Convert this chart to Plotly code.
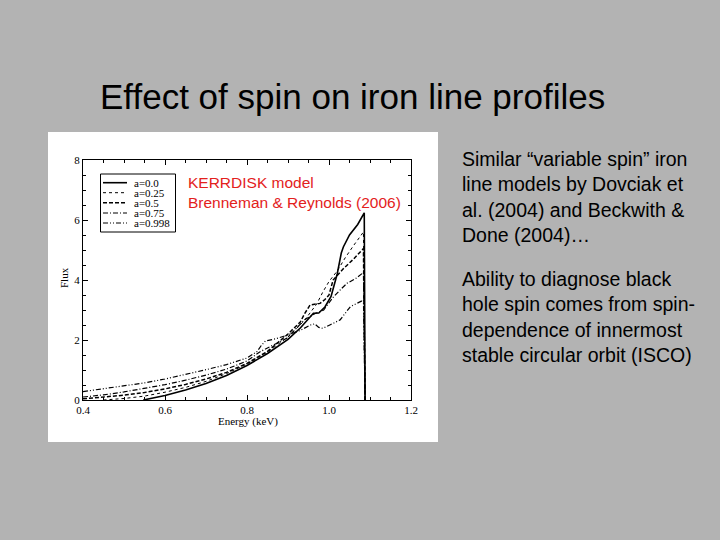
import plotly.graph_objects as go

# spin values and line profiles
spins = ['a=0.0', 'a=0.25', 'a=0.5', 'a=0.75', 'a=0.998']

e_a0 = [0.547, 0.60, 0.65, 0.70, 0.75, 0.80, 0.85, 0.90, 0.93, 0.962, 0.975, 0.99, 1.005, 1.02, 1.03, 1.035, 1.05, 1.07, 1.086, 1.088]
f_a0 = [0.0, 0.15, 0.33, 0.55, 0.82, 1.15, 1.55, 2.02, 2.4, 2.89, 2.9, 3.1, 3.45, 4.2, 4.9, 5.1, 5.5, 5.85, 6.24, 0.0]

e_a025 = [0.45, 0.50, 0.55, 0.60, 0.65, 0.70, 0.75, 0.80, 0.85, 0.90, 0.94, 0.97, 0.985, 1.0, 1.02, 1.04, 1.06, 1.084, 1.088]
f_a025 = [0.0, 0.05, 0.13, 0.26, 0.42, 0.62, 0.88, 1.2, 1.6, 2.1, 2.65, 3.2, 3.6, 3.95, 4.3, 4.75, 5.15, 5.6, 0.0]

e_a05 = [0.40, 0.45, 0.50, 0.55, 0.60, 0.65, 0.70, 0.75, 0.80, 0.85, 0.90, 0.93, 0.941, 0.954, 0.978, 0.99, 1.0, 1.01, 1.036, 1.06, 1.084, 1.088]
f_a05 = [0.04, 0.09, 0.16, 0.25, 0.37, 0.52, 0.70, 0.92, 1.22, 1.62, 2.2, 2.6, 2.89, 3.17, 3.22, 3.35, 3.5, 4.0, 4.39, 4.7, 5.05, 0.0]

e_a075 = [0.40, 0.45, 0.50, 0.55, 0.60, 0.65, 0.70, 0.75, 0.80, 0.832, 0.86, 0.897, 0.94, 0.967, 0.987, 1.011, 1.031, 1.044, 1.065, 1.084, 1.088]
f_a075 = [0.10, 0.17, 0.27, 0.38, 0.51, 0.66, 0.83, 1.03, 1.30, 1.61, 1.80, 2.06, 2.67, 2.89, 3.0, 3.44, 3.72, 3.89, 4.05, 4.25, 0.0]

e_a0998 = [0.40, 0.45, 0.50, 0.55, 0.60, 0.65, 0.70, 0.75, 0.80, 0.825, 0.835, 0.845, 0.87, 0.90, 0.93, 0.955, 0.965, 0.975, 0.985, 1.002, 1.027, 1.052, 1.07, 1.084, 1.088]
f_a0998 = [0.28, 0.37, 0.46, 0.57, 0.70, 0.85, 1.01, 1.18, 1.40, 1.62, 1.82, 1.97, 2.04, 2.17, 2.32, 2.50, 2.54, 2.42, 2.39, 2.50, 2.67, 3.11, 3.22, 3.33, 0.0]

energies = [e_a0, e_a025, e_a05, e_a075, e_a0998]
fluxes = [f_a0, f_a025, f_a05, f_a075, f_a0998]
dashes = ['solid', 'dot', '4px,2px', '5px,2px,1px,2px', '5px,2px,1px,2px,1px,2px']
widths = [1.6, 1.0, 1.5, 1.2, 1.2]

para1 = ['Similar \u201cvariable spin\u201d iron', 'line models by Dovciak et',
         'al. (2004) and Beckwith &amp;', 'Done (2004)\u2026']
para2 = ['Ability to diagnose black', 'hole spin comes from spin-',
         'dependence of innermost', 'stable circular orbit (ISCO)']

W, H = 720, 540
def px(x):
    return x / W
def py(y):
    return 1 - y / H

fig = go.Figure()
for name, e, f, d, w in zip(spins, energies, fluxes, dashes, widths):
    fig.add_trace(go.Scatter(x=e, y=f, mode='lines', name=name,
                             line=dict(color='black', width=w, dash=d)))

serif = 'Liberation Serif'
axis_common = dict(showline=True, linecolor='black', linewidth=1, mirror='ticks',
                   ticks='inside', ticklen=5, tickcolor='black', showgrid=False,
                   zeroline=False, automargin=False,
                   tickfont=dict(family=serif, size=11, color='black'))

fig.update_xaxes(range=[0.4, 1.2], dtick=0.2, tick0=0.4, tickformat='.1f',
                 minor=dict(dtick=0.05, ticks='inside', ticklen=3, tickcolor='black'),
                 domain=[px(83), px(411)], **axis_common)
fig.update_yaxes(range=[0, 8], dtick=2, tick0=0,
                 minor=dict(dtick=0.5, ticks='inside', ticklen=3, tickcolor='black'),
                 domain=[py(400), py(160)], **axis_common)

shapes = [dict(type='rect', xref='paper', yref='paper', x0=px(48), x1=px(438),
               y0=py(442), y1=py(132), fillcolor='white', line_width=0, layer='below'),
          dict(type='rect', xref='paper', yref='paper', x0=px(100.5), x1=px(175.5),
               y0=py(232), y1=py(174), line=dict(color='black', width=1))]

annotations = []
rows = [182.7, 192.7, 202.7, 213.0, 223.0]
for name, d, w, r in zip(spins, dashes, widths, rows):
    shapes.append(dict(type='line', xref='paper', yref='paper', x0=px(103), x1=px(127),
                       y0=py(r), y1=py(r), line=dict(color='black', width=w, dash=d)))
    annotations.append(dict(x=px(132), y=py(r), xref='paper', yref='paper', text=name,
                            showarrow=False, xanchor='left', yanchor='middle',
                            font=dict(family=serif, size=11, color='black')))

sans = 'Liberation Sans'
annotations += [
    dict(x=px(248), y=py(421), xref='paper', yref='paper', text='Energy (keV)',
         showarrow=False, xanchor='center', yanchor='middle',
         font=dict(family=serif, size=11, color='black')),
    dict(x=px(64), y=py(278), xref='paper', yref='paper', text='Flux', textangle=-90,
         showarrow=False, xanchor='center', yanchor='middle',
         font=dict(family=serif, size=11, color='black')),
    dict(x=px(186), y=py(192), xref='paper', yref='paper',
         text='KERRDISK model<br>Brenneman & Reynolds (2006)', align='left',
         showarrow=False, xanchor='left', yanchor='middle',
         font=dict(family=sans, size=15.5, color='#e3211c')),
    dict(x=px(352), y=py(96), xref='paper', yref='paper',
         text='Effect of spin on iron line profiles', showarrow=False,
         xanchor='center', yanchor='middle',
         font=dict(family=sans, size=35, color='black')),
    dict(x=px(460), y=py(197), xref='paper', yref='paper', align='left',
         text='<br>'.join(para1), showarrow=False, xanchor='left', yanchor='middle',
         font=dict(family=sans, size=19.5, color='black')),
    dict(x=px(460), y=py(317), xref='paper', yref='paper', align='left',
         text='<br>'.join(para2), showarrow=False, xanchor='left', yanchor='middle',
         font=dict(family=sans, size=19.5, color='black')),
]

fig.update_layout(width=W, height=H, margin=dict(l=0, r=0, t=0, b=0),
                  paper_bgcolor='#b3b3b3', plot_bgcolor='white', showlegend=False,
                  shapes=shapes, annotations=annotations)

fig.write_html('out.html', config={'displayModeBar': False},
               post_script="document.body.style.margin='0';")
